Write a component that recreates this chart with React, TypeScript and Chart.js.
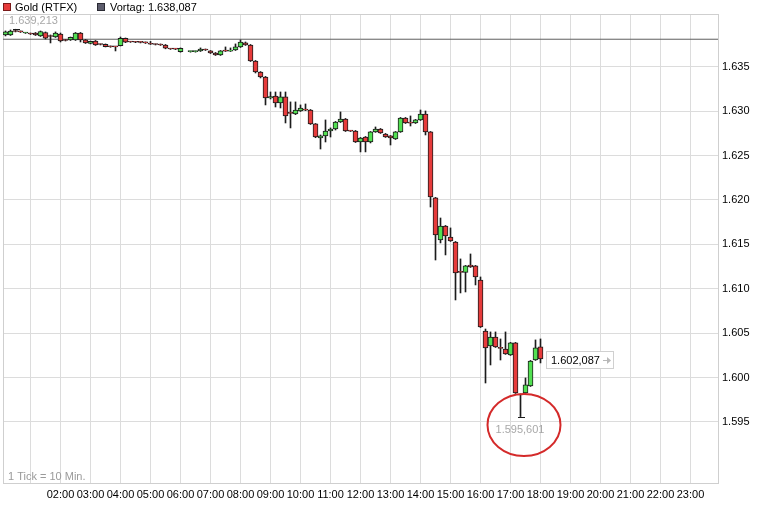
import React, { useEffect, useRef } from "react";
import { Chart, registerables } from "chart.js";

Chart.register(...registerables);

// ---- data (10-minute candles, price in USD) ----
const times = [
  "00:10", "00:20", "00:30", "00:40", "00:50", "01:00",
  "01:10", "01:20", "01:30", "01:40", "01:50", "02:00",
  "02:10", "02:20", "02:30", "02:40", "02:50", "03:00",
  "03:10", "03:20", "03:30", "03:40", "03:50", "04:00",
  "04:10", "04:20", "04:30", "04:40", "04:50", "05:00",
  "05:10", "05:20", "05:30", "05:40", "05:50", "06:00",
  "06:20", "06:30", "06:40", "06:50", "07:00",
  "07:10", "07:20", "07:30", "07:40", "07:50", "08:00",
  "08:10", "08:20", "08:30", "08:40", "08:50", "09:00",
  "09:10", "09:20", "09:30", "09:40", "09:50", "10:00",
  "10:10", "10:20", "10:30", "10:40", "10:50", "11:00",
  "11:10", "11:20", "11:30", "11:40", "11:50", "12:00",
  "12:10", "12:20", "12:30", "12:40", "12:50", "13:00",
  "13:10", "13:20", "13:30", "13:40", "13:50", "14:00",
  "14:10", "14:20", "14:30", "14:40", "14:50", "15:00",
  "15:10", "15:20", "15:30", "15:40", "15:50", "16:00",
  "16:10", "16:20", "16:30", "16:40", "16:50", "17:00",
  "17:10", "17:20", "17:30", "17:40", "17:50", "18:00",
];

const opens = [
  1638.57, 1638.57, 1639.02, 1638.96, 1638.79, 1638.74,
  1638.79, 1638.46, 1638.85, 1638.46, 1638.34, 1638.68,
  1638.01, 1638.01, 1638.01, 1638.79, 1638.01, 1637.61,
  1637.89, 1637.52, 1637.52, 1637.26, 1637.24, 1637.37,
  1638.20, 1637.80, 1637.78, 1637.75, 1637.73, 1637.56,
  1637.52, 1637.50, 1637.44, 1637.01, 1636.99, 1636.69,
  1636.69, 1636.69, 1636.77, 1636.92, 1636.77,
  1636.54, 1636.32, 1636.77, 1636.75, 1636.88, 1637.22,
  1637.67, 1637.44, 1635.64, 1634.40, 1633.84, 1631.48,
  1631.70, 1630.91, 1631.59, 1629.79, 1629.67, 1630.01,
  1630.12, 1630.12, 1628.55, 1626.97, 1627.20, 1627.76,
  1627.98, 1628.77, 1629.11, 1627.76, 1627.76, 1626.52,
  1627.08, 1626.52, 1627.65, 1627.98, 1627.42, 1627.20,
  1626.86, 1627.65, 1629.22, 1628.66, 1628.66, 1629.00,
  1629.67, 1627.65, 1620.22, 1615.49, 1617.06, 1615.82,
  1615.26, 1611.88, 1611.83, 1612.67, 1612.56, 1610.98,
  1605.24, 1603.55, 1604.56, 1603.33, 1603.21, 1602.54,
  1603.89, 1598.03, 1598.26, 1599.05, 1601.97, 1603.44,
];

const highs = [
  1639.02, 1639.13, 1639.213, 1639.02, 1638.85, 1638.79,
  1638.85, 1639.02, 1638.91, 1638.57, 1638.91, 1638.79,
  1638.06, 1638.34, 1638.85, 1638.85, 1638.06, 1637.89,
  1637.95, 1637.56, 1637.56, 1637.33, 1637.28, 1638.34,
  1638.23, 1637.84, 1637.84, 1637.80, 1637.78, 1637.84,
  1637.56, 1637.56, 1637.50, 1637.05, 1637.05, 1637.11,
  1636.75, 1636.77, 1637.11, 1636.99, 1636.82,
  1636.60, 1636.82, 1637.22, 1637.11, 1637.56, 1638.01,
  1637.78, 1637.50, 1635.70, 1634.45, 1633.90, 1632.15,
  1632.15, 1632.15, 1632.15, 1631.03, 1631.03, 1630.69,
  1630.80, 1630.18, 1628.60, 1627.31, 1629.00, 1628.10,
  1628.83, 1629.90, 1629.17, 1627.82, 1627.82, 1627.03,
  1627.14, 1627.70, 1628.21, 1628.04, 1627.48, 1627.25,
  1627.70, 1629.28, 1629.28, 1629.45, 1629.06, 1630.12,
  1630.01, 1627.70, 1620.28, 1617.96, 1617.12, 1616.84,
  1615.32, 1613.35, 1612.62, 1613.91, 1612.62, 1611.32,
  1605.46, 1605.13, 1605.13, 1604.34, 1605.13, 1603.95,
  1603.95, 1598.15, 1599.95, 1601.92, 1604.23, 1604.34,
];

const lows = [
  1638.46, 1638.51, 1638.91, 1638.85, 1638.74, 1638.62,
  1638.51, 1638.40, 1638.12, 1637.67, 1638.29, 1637.78,
  1637.89, 1637.95, 1637.95, 1637.78, 1637.61, 1637.56,
  1637.39, 1637.44, 1637.22, 1637.18, 1636.77, 1637.33,
  1637.70, 1637.73, 1637.70, 1637.67, 1637.61, 1637.50,
  1637.44, 1637.39, 1637.01, 1636.94, 1636.92, 1636.63,
  1636.63, 1636.63, 1636.71, 1636.82, 1636.48,
  1636.26, 1636.26, 1636.71, 1636.71, 1636.82, 1637.16,
  1637.39, 1635.58, 1634.29, 1633.73, 1630.69, 1631.36,
  1630.46, 1630.35, 1628.66, 1628.10, 1629.60, 1629.95,
  1630.05, 1628.49, 1627.00, 1625.73, 1626.52, 1627.08,
  1627.87, 1628.71, 1627.70, 1627.70, 1626.46, 1625.40,
  1625.40, 1626.41, 1627.60, 1627.48, 1627.03, 1626.18,
  1626.80, 1627.60, 1628.60, 1628.32, 1628.60, 1628.94,
  1627.31, 1619.20, 1613.23, 1615.15, 1613.80, 1615.32,
  1608.73, 1609.52, 1609.63, 1612.39, 1610.42, 1605.63,
  1599.38, 1601.41, 1603.38, 1601.97, 1602.60, 1602.48,
  1598.20, 1595.601, 1598.20, 1598.99, 1601.92, 1601.64,
];

const closes = [
  1638.91, 1639.02, 1638.96, 1638.91, 1638.79, 1638.68,
  1638.57, 1638.96, 1638.20, 1638.40, 1638.79, 1637.89,
  1637.95, 1638.29, 1638.79, 1638.01, 1637.67, 1637.84,
  1637.44, 1637.50, 1637.26, 1637.24, 1637.22, 1638.20,
  1637.75, 1637.78, 1637.75, 1637.73, 1637.67, 1637.52,
  1637.50, 1637.44, 1637.07, 1636.99, 1636.97, 1637.07,
  1636.69, 1636.71, 1636.99, 1636.88, 1636.54,
  1636.32, 1636.77, 1636.75, 1636.77, 1637.22, 1637.78,
  1637.44, 1635.64, 1634.40, 1633.84, 1631.48, 1631.64,
  1630.91, 1631.59, 1629.45, 1629.74, 1630.12, 1630.35,
  1630.10, 1628.55, 1627.08, 1627.20, 1627.76, 1627.98,
  1628.77, 1629.11, 1627.76, 1627.74, 1626.52, 1626.97,
  1626.52, 1627.65, 1627.98, 1627.53, 1627.08, 1626.97,
  1627.65, 1629.22, 1628.66, 1628.64, 1629.00, 1629.67,
  1627.65, 1620.33, 1616.05, 1617.06, 1615.94, 1615.37,
  1611.77, 1611.83, 1612.56, 1612.45, 1611.32, 1605.69,
  1603.33, 1604.56, 1603.44, 1603.28, 1602.65, 1603.89,
  1598.26, 1598.09, 1599.16, 1601.86, 1603.33, 1602.087,
];

const instrumentName = "Gold (RTFX)";
const previousCloseLabel = "Vortag";
const previousClose = 1638.087;
const dayHigh = 1639.213;
const dayLow = 1595.601;
const lastPrice = 1602.087;
const tickNote = "1 Tick = 10 Min.";

const priceTicks = [1595, 1600, 1605, 1610, 1615, 1620, 1625, 1630, 1635];
const hourTicks = [1, 2, 3, 4, 5, 6, 7, 8, 9, 10, 11, 12, 13, 14, 15, 16, 17, 18, 19, 20, 21, 22, 23];
const hourLabels = [
  "", "02:00", "03:00", "04:00", "05:00", "06:00", "07:00", "08:00", "09:00", "10:00", "11:00", "12:00",
  "13:00", "14:00", "15:00", "16:00", "17:00", "18:00", "19:00", "20:00", "21:00", "22:00", "23:00",
];

// axis ranges (minutes of day / price)
const X_MIN = 5;
const X_MAX = 1435;
const Y_MIN = 1588.12;
const Y_MAX = 1640.93;

const RED = "#e63b3b";
const GREEN = "#52e052";
const OUTLINE = "#1c1c1c";
const FONT = "'Liberation Sans', Arial, sans-serif";

function toMinutes(t: string): number {
  const [h, m] = t.split(":").map(Number);
  return h * 60 + m;
}

function deFormat(v: number, digits: number): string {
  const s = v.toFixed(digits);
  const [i, f] = s.split(".");
  const ii = i.replace(/\B(?=(\d{3})+(?!\d))/g, ".");
  return f ? ii + "," + f : ii;
}

const overlayPlugin = {
  id: "overlay",
  beforeDraw(chart: any) {
    const { ctx, width, height } = chart;
    ctx.save();
    ctx.fillStyle = "#ffffff";
    ctx.fillRect(0, 0, width, height);
    ctx.restore();
  },
  beforeDatasetsDraw(chart: any) {
    const { ctx, chartArea } = chart;
    ctx.save();
    ctx.strokeStyle = "#cfcfcf";
    ctx.lineWidth = 1;
    ctx.strokeRect(
      chartArea.left + 0.5,
      chartArea.top + 0.5,
      chartArea.right - chartArea.left,
      chartArea.bottom - chartArea.top
    );
    ctx.restore();
  },
  afterDatasetsDraw(chart: any) {
    const { ctx, chartArea, scales } = chart;
    const xs = scales.x;
    const ys = scales.y;
    ctx.save();
    ctx.font = `11px ${FONT}`;
    ctx.textBaseline = "middle";

    // legend
    ctx.fillStyle = RED;
    ctx.fillRect(3, 3, 8, 8);
    ctx.strokeStyle = "#7a1a1a";
    ctx.strokeRect(3.5, 3.5, 7, 7);
    ctx.fillStyle = "#000";
    ctx.fillText(instrumentName, 15, 7.5);
    ctx.fillStyle = "#5c5c6c";
    ctx.fillRect(97, 3, 8, 8);
    ctx.strokeStyle = "#2a2a33";
    ctx.strokeRect(97.5, 3.5, 7, 7);
    ctx.fillStyle = "#000";
    ctx.fillText(`${previousCloseLabel}: ${deFormat(previousClose, 3)}`, 110, 7.5);

    // day high label + cap
    const hiIdx = highs.indexOf(Math.max(...highs));
    const hx = Math.round(xs.getPixelForValue(toMinutes(times[hiIdx])));
    const hy = Math.round(ys.getPixelForValue(dayHigh)) + 0.5;
    ctx.strokeStyle = OUTLINE;
    ctx.beginPath();
    ctx.moveTo(hx - 3, hy);
    ctx.lineTo(hx + 4, hy);
    ctx.stroke();
    ctx.fillStyle = "#a8a8a8";
    ctx.fillText(deFormat(dayHigh, 3), chartArea.left + 6, chartArea.top + 7);

    // tick note
    ctx.fillStyle = "#9a9a9a";
    ctx.fillText(tickNote, chartArea.left + 5, chartArea.bottom - 6);

    // day low: cap, label, ellipse
    const loIdx = lows.indexOf(Math.min(...lows));
    const lx = Math.round(xs.getPixelForValue(toMinutes(times[loIdx])));
    const ly = Math.round(ys.getPixelForValue(dayLow)) + 0.5;
    ctx.strokeStyle = OUTLINE;
    ctx.beginPath();
    ctx.moveTo(lx - 3, ly);
    ctx.lineTo(lx + 4, ly);
    ctx.stroke();
    ctx.fillStyle = "#a8a8a8";
    ctx.textAlign = "center";
    ctx.fillText(deFormat(dayLow, 3), lx - 1, ly + 12);
    ctx.textAlign = "left";
    ctx.strokeStyle = "#d42a2a";
    ctx.lineWidth = 2;
    ctx.beginPath();
    ctx.ellipse(lx + 3, ly + 7.5, 36.5, 31, 0, 0, Math.PI * 2);
    ctx.stroke();

    // last price box
    const lastX = xs.getPixelForValue(toMinutes(times[times.length - 1]));
    const lastY = Math.round(ys.getPixelForValue(lastPrice));
    const bx = Math.round(lastX) + 5;
    const bw = 68;
    const bh = 18;
    const by = lastY - 8;
    ctx.lineWidth = 1;
    ctx.fillStyle = "#ffffff";
    ctx.fillRect(bx, by, bw, bh);
    ctx.strokeStyle = "#d0d0d0";
    ctx.strokeRect(bx + 0.5, by + 0.5, bw - 1, bh - 1);
    ctx.fillStyle = "#000";
    ctx.fillText(deFormat(lastPrice, 3), bx + 5, by + bh / 2 + 0.5);
    // arrow
    ctx.strokeStyle = "#b8b8b8";
    ctx.fillStyle = "#b8b8b8";
    const ay = by + bh / 2 + 0.5;
    ctx.beginPath();
    ctx.moveTo(bx + 57, ay);
    ctx.lineTo(bx + 62, ay);
    ctx.stroke();
    ctx.beginPath();
    ctx.moveTo(bx + 65, ay);
    ctx.lineTo(bx + 61, ay - 3.5);
    ctx.lineTo(bx + 61, ay + 3.5);
    ctx.closePath();
    ctx.fill();

    ctx.restore();
  },
};

export default function App() {
  const ref = useRef<HTMLCanvasElement | null>(null);

  useEffect(() => {
    if (!ref.current) return;
    const xVals = times.map(toMinutes);
    const bodies = xVals.map((x, i) => ({ x, y: [opens[i], closes[i]] }));
    const wicks = xVals.map((x, i) => ({ x, y: [lows[i], highs[i]] }));

    const chart = new Chart(ref.current, {
      type: "bar",
      data: {
        datasets: [
          {
            type: "bar",
            label: instrumentName,
            data: bodies as any,
            backgroundColor: (c: any) => (closes[c.dataIndex] >= opens[c.dataIndex] ? GREEN : RED),
            borderColor: OUTLINE,
            borderWidth: 1,
            borderSkipped: false,
            barThickness: 5,
            minBarLength: 1,
            grouped: false,
            order: 0,
          } as any,
          {
            type: "bar",
            label: "wick",
            data: wicks as any,
            backgroundColor: OUTLINE,
            borderWidth: 0,
            barThickness: 1,
            grouped: false,
            order: 1,
          } as any,
          {
            type: "line",
            label: previousCloseLabel,
            data: [
              { x: X_MIN, y: previousClose },
              { x: X_MAX, y: previousClose },
            ],
            borderColor: "#5e5e5e",
            borderWidth: 1,
            pointRadius: 0,
            order: 2,
          } as any,
        ],
      },
      options: {
        animation: false,
        responsive: false,
        devicePixelRatio: 1,
        layout: { padding: { left: 3, top: 14, right: 0, bottom: 0 } },
        plugins: {
          legend: { display: false },
          tooltip: { enabled: false },
        },
        scales: {
          x: {
            type: "linear",
            offset: false,
            min: X_MIN,
            max: X_MAX,
            afterBuildTicks: (axis: any) => {
              axis.ticks = hourTicks.map((h) => ({ value: h * 60 }));
            },
            afterFit: (axis: any) => {
              axis.height = 34;
            },
            grid: { color: "#dcdcdc", lineWidth: 1, drawTicks: false, offset: false },
            border: { display: false },
            ticks: {
              autoSkip: false,
              maxRotation: 0,
              padding: 5,
              color: "#000",
              font: { family: FONT, size: 11 },
              callback: (v: any) => {
                const idx = hourTicks.indexOf(Math.round(Number(v) / 60));
                return idx >= 0 ? hourLabels[idx] : "";
              },
            },
          },
          y: {
            type: "linear",
            position: "right",
            min: Y_MIN,
            max: Y_MAX,
            afterBuildTicks: (axis: any) => {
              axis.ticks = priceTicks.map((v) => ({ value: v }));
            },
            afterFit: (axis: any) => {
              axis.width = 42;
            },
            grid: { color: "#dcdcdc", lineWidth: 1, drawTicks: false },
            border: { display: false },
            ticks: {
              padding: 4,
              color: "#000",
              font: { family: FONT, size: 11 },
              callback: (v: any) => deFormat(Number(v), 0),
            },
          },
        },
      },
      plugins: [overlayPlugin],
    } as any);

    return () => chart.destroy();
  }, []);

  return (
    <div style={{ position: "fixed", left: 0, top: 0, width: 760, height: 517, background: "#fff" }}>
      <canvas ref={ref} width={760} height={517} style={{ display: "block" }} />
    </div>
  );
}
